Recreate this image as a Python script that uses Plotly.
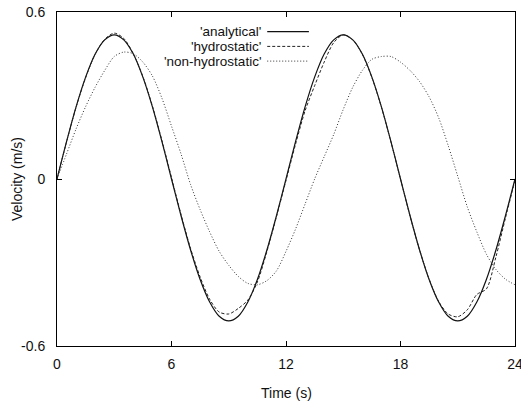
import plotly.graph_objects as go

time_s = [0, 0.5, 1, 1.5, 2, 2.5, 3, 3.5, 4, 4.5, 5, 5.5, 6, 6.5, 7, 7.5, 8, 8.5, 9, 9.5, 10, 10.5, 11, 11.5,
          12, 12.5, 13, 13.5, 14, 14.5, 15, 15.5, 16, 16.5, 17, 17.5, 18, 18.5, 19, 19.5, 20, 20.5, 21, 21.5,
          22, 22.5, 23, 23.5, 24]

analytical = [0, 0.134, 0.259, 0.366, 0.449, 0.5, 0.518, 0.5, 0.449, 0.366, 0.259, 0.134,
              0, -0.132, -0.255, -0.361, -0.442, -0.493, -0.51, -0.493, -0.442, -0.361, -0.255, -0.132,
              0, 0.134, 0.259, 0.366, 0.449, 0.5, 0.518, 0.5, 0.449, 0.366, 0.259, 0.134,
              0, -0.132, -0.255, -0.361, -0.442, -0.493, -0.51, -0.493, -0.442, -0.361, -0.255, -0.132, 0]

hydrostatic = [0, 0.133, 0.258, 0.364, 0.448, 0.502, 0.524, 0.505, 0.45, 0.368, 0.262, 0.138,
               0.005, -0.128, -0.25, -0.352, -0.432, -0.478, -0.485, -0.465, -0.435, -0.37, -0.26, -0.135,
               -0.005, 0.125, 0.245, 0.335, 0.42, 0.49, 0.518, 0.5, 0.448, 0.365, 0.258, 0.133,
               0.0, -0.133, -0.255, -0.36, -0.44, -0.485, -0.495, -0.47, -0.415, -0.395, -0.28, -0.14, -0.005]

non_hydrostatic = [0, 0.09, 0.18, 0.26, 0.33, 0.39, 0.44, 0.456, 0.45, 0.42, 0.37, 0.29,
                   0.19, 0.09, -0.02, -0.11, -0.19, -0.26, -0.31, -0.35, -0.375, -0.38, -0.365, -0.33,
                   -0.26, -0.18, -0.09, 0.0, 0.08, 0.16, 0.25, 0.33, 0.39, 0.43, 0.44, 0.44,
                   0.42, 0.39, 0.35, 0.295, 0.22, 0.12, 0.01, -0.1, -0.19, -0.27, -0.325, -0.36, -0.38]

series_names = ["'analytical'", "'hydrostatic'", "'non-hydrostatic'"]
x_ticks = [0, 6, 12, 18, 24]
y_ticks = [-0.6, 0, 0.6]
y_tick_labels = ["-0.6", "0", "0.6"]
x_title = "Time (s)"
y_title = "Velocity (m/s)"

FONT = "Liberation Sans, Arial, Helvetica, sans-serif"
FS = 14
TXT = "#111111"
styles = [
    dict(color="#111111", width=1.2, dash="solid"),
    dict(color="#222222", width=1.0, dash="3px,2px"),
    dict(color="#333333", width=1.0, dash="1px,2px"),
]

fig = go.Figure()
for name, ys, st in zip(series_names, [analytical, hydrostatic, non_hydrostatic], styles):
    fig.add_trace(go.Scatter(x=time_s, y=ys, mode="lines", name=name,
                             line=dict(shape="spline", smoothing=0.8, **st),
                             showlegend=False))

# legend (text left, sample line right) built in paper coordinates
leg_rows = [0.941, 0.897, 0.853]
for name, yy, st in zip(series_names, leg_rows, styles):
    fig.add_annotation(x=0.447, y=yy, xref="paper", yref="paper", text=name,
                       showarrow=False, xanchor="right", yanchor="middle",
                       borderpad=0,
                       font=dict(family=FONT, size=13.5, color=TXT))
    fig.add_shape(type="line", xref="paper", yref="paper", x0=0.459, x1=0.550, y0=yy, y1=yy,
                  line=st)

# axis titles
fig.add_annotation(x=0.5, y=-0.141, xref="paper", yref="paper", text=x_title, showarrow=False,
                   xanchor="center", yanchor="middle", font=dict(family=FONT, size=FS, color=TXT))
fig.add_annotation(x=-0.0873, y=0.5, xref="paper", yref="paper", text=y_title, showarrow=False,
                   textangle=-90, xanchor="center", yanchor="middle",
                   font=dict(family=FONT, size=FS, color=TXT))

axis_common = dict(showgrid=False, zeroline=False, showline=True, linecolor="black", linewidth=1,
                   mirror="ticks", ticks="inside", ticklen=5, tickcolor="black", tickwidth=1,
                   automargin=False,
                   tickfont=dict(family=FONT, size=FS, color=TXT))

fig.update_xaxes(range=[0, 24], tickvals=x_ticks, ticktext=[str(v) for v in x_ticks],
                 ticklabeloverflow="allow", ticklabelstandoff=5, **axis_common)
fig.update_yaxes(range=[-0.6, 0.6], tickvals=y_ticks, ticktext=y_tick_labels,
                 ticklabelstandoff=8, **axis_common)

fig.update_layout(width=521, height=406, margin=dict(l=57, r=6, t=12, b=60),
                  plot_bgcolor="white", paper_bgcolor="white",
                  font=dict(family=FONT, size=FS, color=TXT))

fig.write_html("out.html", config={"displayModeBar": False},
               post_script="document.body.style.margin='0';document.body.style.padding='0';document.body.style.overflow='hidden';")
